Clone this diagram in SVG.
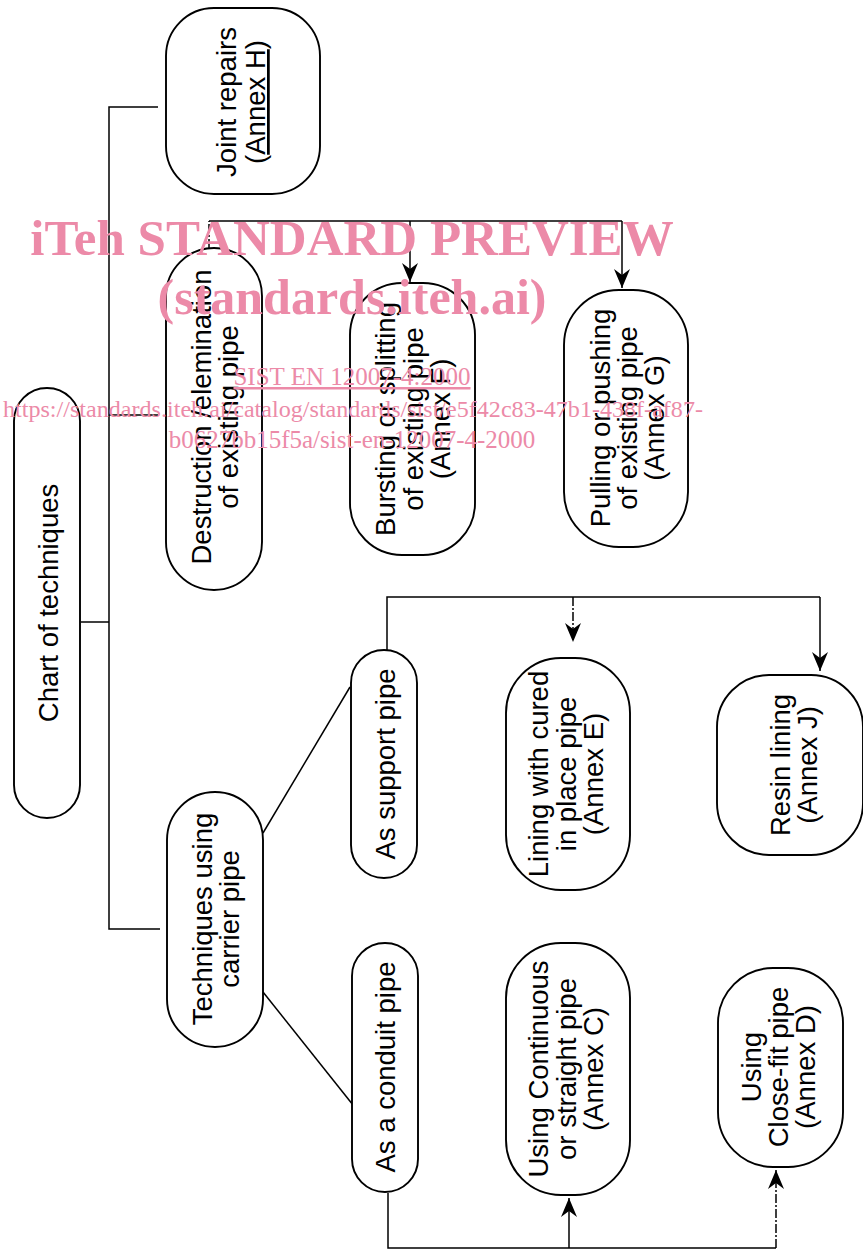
<svg xmlns="http://www.w3.org/2000/svg" width="863" height="1250" viewBox="0 0 863 1250">
<defs>
<style>
.box{fill:#fff;stroke:#000;stroke-width:1.9}
.lbl{font-family:"Liberation Sans",Arial,Helvetica,sans-serif;font-size:27.5px;fill:#000;text-anchor:middle}
.ln{fill:none;stroke:#000;stroke-width:1.5}
.dash{fill:none;stroke:#000;stroke-width:1.5;stroke-dasharray:9 2 2 2}
.wm{font-family:"Liberation Serif","Times New Roman",serif;fill:#ec8aa8;text-anchor:middle}
</style>
<marker id="ah" viewBox="-20 -9 21 18" refX="0" refY="0" markerWidth="21" markerHeight="18" orient="auto" markerUnits="userSpaceOnUse">
<path d="M0,0 L-19,-8 L-13,0 L-19,8 Z" fill="#000"/>
</marker>
</defs>
<rect width="863" height="1250" fill="#fff"/>

<g id="connectors">
<polyline class="ln" points="158,107 109,107 109,929 160,929"/>
<line class="ln" x1="109" y1="415" x2="158" y2="415"/>
<line class="ln" x1="81" y1="622" x2="109" y2="622"/>
<line class="ln" x1="263" y1="833" x2="350" y2="687"/>
<line class="ln" x1="263" y1="992" x2="353" y2="1105"/>
<line class="dash" x1="209" y1="248" x2="209" y2="221"/>
<line class="ln" x1="209" y1="221" x2="622" y2="221"/>
<line class="ln" x1="410" y1="221" x2="410" y2="282" marker-end="url(#ah)"/>
<line class="ln" x1="622" y1="221" x2="622" y2="288" marker-end="url(#ah)"/>
<polyline class="ln" points="387,650 387,597 820,597"/>
<line class="dash" x1="573" y1="597" x2="573" y2="642" marker-end="url(#ah)"/>
<line class="ln" x1="820" y1="597" x2="820" y2="671" marker-end="url(#ah)"/>
<polyline class="ln" points="388,1193 388,1248 776,1248"/>
<line class="ln" x1="569" y1="1248" x2="569" y2="1198" marker-end="url(#ah)"/>
<line class="dash" x1="776" y1="1248" x2="776" y2="1170" marker-end="url(#ah)"/>
</g>

<g id="node-joint-repairs">
<rect class="box" x="166" y="8" width="154" height="186" rx="48"/>
<text class="lbl" transform="rotate(-90)"><tspan x="-102" y="236">Joint repairs</tspan><tspan x="-102" y="265">(<tspan text-decoration="underline">Annex H</tspan>)</tspan></text>
</g>

<g id="node-chart">
<rect class="box" x="14" y="388" width="66" height="430" rx="33"/>
<text class="lbl" transform="rotate(-90)" x="-603" y="58">Chart of techniques</text>
</g>

<g id="node-destruction">
<rect class="box" x="166" y="248" width="96" height="342" rx="48"/>
<text class="lbl" transform="rotate(-90)"><tspan x="-417" y="211">Destruction /elemination</tspan><tspan x="-417" y="238">of existing pipe</tspan></text>
</g>

<g id="node-bursting">
<rect class="box" x="350" y="283" width="125" height="272" rx="52"/>
<text class="lbl" transform="rotate(-90)"><tspan x="-419" y="395">Bursting or splitting</tspan><tspan x="-419" y="423">of existing pipe</tspan><tspan x="-419" y="450">(Annex F)</tspan></text>
</g>

<g id="node-pulling">
<rect class="box" x="564" y="290" width="124" height="257" rx="55"/>
<text class="lbl" transform="rotate(-90)"><tspan x="-418" y="610">Pulling or pushing</tspan><tspan x="-418" y="637">of existing pipe</tspan><tspan x="-418" y="664">(Annex G)</tspan></text>
</g>

<g id="node-carrier">
<rect class="box" x="167" y="792" width="96" height="255" rx="48"/>
<text class="lbl" transform="rotate(-90)"><tspan x="-919" y="212">Techniques using</tspan><tspan x="-919" y="239">carrier pipe</tspan></text>
</g>

<g id="node-support">
<rect class="box" x="351" y="650" width="66" height="228" rx="33"/>
<text class="lbl" transform="rotate(-90)" x="-764" y="395">As support pipe</text>
</g>

<g id="node-conduit">
<rect class="box" x="352" y="943" width="66" height="249" rx="33"/>
<text class="lbl" transform="rotate(-90)" x="-1067" y="395">As a conduit pipe</text>
</g>

<g id="node-cured">
<rect class="box" x="506" y="658" width="124" height="232" rx="55"/>
<text class="lbl" transform="rotate(-90)"><tspan x="-774" y="548">Lining with cured</tspan><tspan x="-774" y="576">in place pipe</tspan><tspan x="-774" y="603">(Annex E)</tspan></text>
</g>

<g id="node-resin">
<rect class="box" x="717" y="675" width="146" height="180" rx="52"/>
<text class="lbl" transform="rotate(-90)"><tspan x="-765" y="790">Resin lining</tspan><tspan x="-765" y="817">(Annex J)</tspan></text>
</g>

<g id="node-continuous">
<rect class="box" x="506" y="943" width="124" height="252" rx="55"/>
<text class="lbl" transform="rotate(-90)"><tspan x="-1069" y="548">Using Continuous</tspan><tspan x="-1069" y="576">or straight pipe</tspan><tspan x="-1069" y="603">(Annex C)</tspan></text>
</g>

<g id="node-closefit">
<rect class="box" x="718" y="968" width="125" height="199" rx="55"/>
<text class="lbl" transform="rotate(-90)"><tspan x="-1067" y="761">Using</tspan><tspan x="-1067" y="788">Close-fit pipe</tspan><tspan x="-1067" y="815">(Annex D)</tspan></text>
</g>

<g id="watermark">
<text class="wm" x="352" y="255" font-size="51" font-weight="bold">iTeh STANDARD PREVIEW</text>
<text class="wm" x="352" y="314" font-size="50" font-weight="bold">(standards.iteh.ai)</text>
<text class="wm" x="352" y="385" font-size="25" text-decoration="underline">SIST EN 12007-4:2000</text>
<text class="wm" x="353" y="417" font-size="24" textLength="700" lengthAdjust="spacingAndGlyphs">https://standards.iteh.ai/catalog/standards/sist/e5f42c83-47b1-438f-af87-</text>
<text class="wm" x="352" y="448" font-size="25">b0627bb15f5a/sist-en-12007-4-2000</text>
</g>
</svg>
